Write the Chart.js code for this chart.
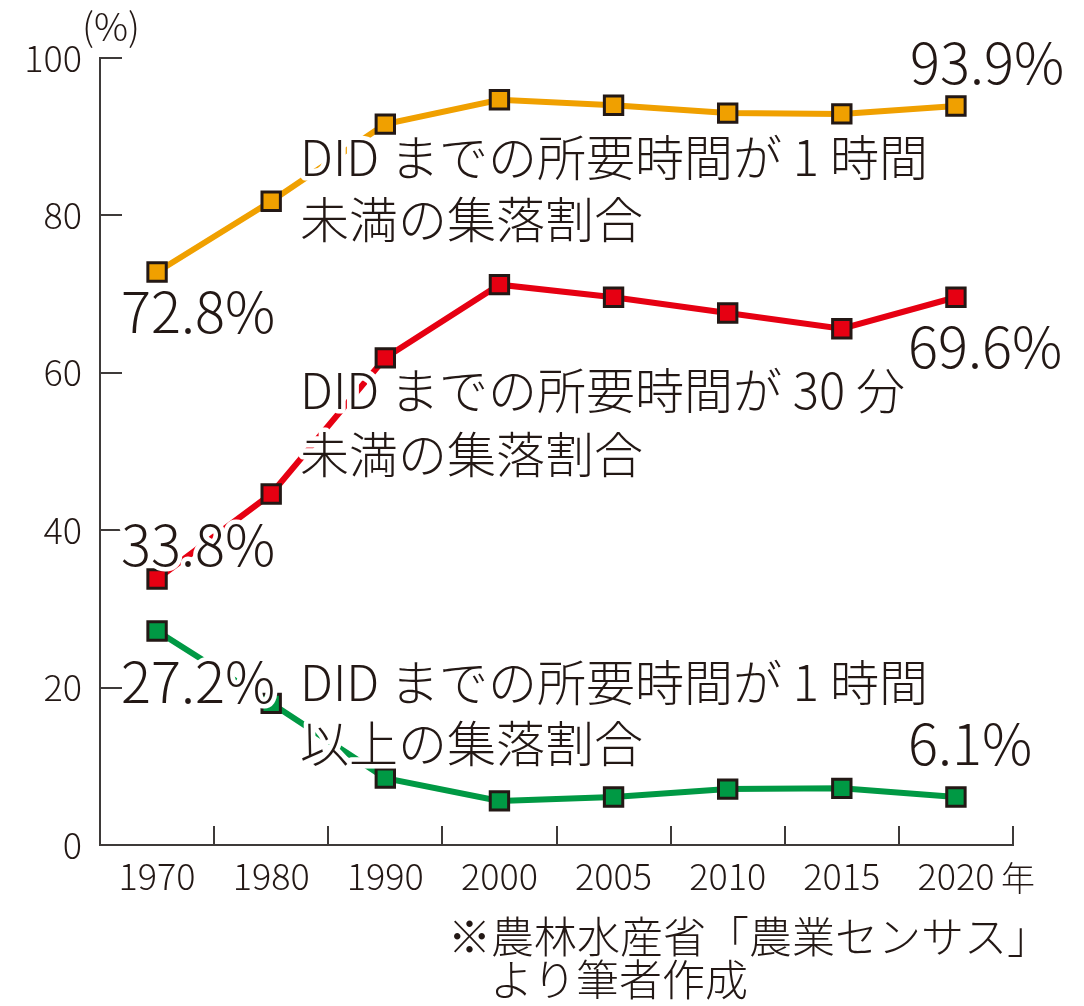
<!DOCTYPE html>
<html lang="ja">
<head>
<meta charset="utf-8">
<script src="https://cdn.jsdelivr.net/npm/chart.js@4.4.1/dist/chart.umd.min.js"></script>
<style>
  body { margin: 0; background: #fff; }
  #wrap { width: 1084px; height: 1006px; }
</style>
</head>
<body>
<div id="wrap"><canvas id="chart" width="1084" height="1006"></canvas></div>
<script>
const years = ["1970", "1980", "1990", "2000", "2005", "2010", "2015", "2020"];
// DID までの所要時間が 1 時間未満
const underOneHour = [72.8, 81.8, 91.6, 94.7, 94.0, 93.0, 92.9, 93.9];
// DID までの所要時間が 30 分未満
const underThirtyMin = [33.8, 44.6, 61.9, 71.2, 69.6, 67.6, 65.6, 69.6];
// DID までの所要時間が 1 時間以上
const overOneHour = [27.2, 18.0, 8.5, 5.6, 6.1, 7.1, 7.2, 6.1];

const FONT = '"Noto Sans CJK JP", "Noto Sans", sans-serif';
const INK = "#231815";
const AXIS = "#3e3a39";
const ORANGE = "#f0a000";
const RED = "#e60012";
const GREEN = "#009944";

const pct = (v) => v.toFixed(1) + "%";

function series(data, color) {
  return {
    data: data,
    borderColor: color,
    borderWidth: 6,
    pointStyle: "rect",
    pointRadius: 13,
    pointHoverRadius: 13,
    pointBackgroundColor: color,
    pointBorderColor: INK,
    pointBorderWidth: 3,
    tension: 0,
  };
}

// tick marks pointing into the plot, like the printed figure
const innerTicks = {
  id: "innerTicks",
  beforeDatasetsDraw(chart) {
    const { ctx, chartArea, scales } = chart;
    const x = scales.x, y = scales.y;
    ctx.save();
    ctx.strokeStyle = AXIS;
    ctx.lineWidth = 2;
    ctx.beginPath();
    y.ticks.forEach((t) => {
      const py = Math.round(y.getPixelForValue(t.value));
      ctx.moveTo(chartArea.left, py);
      ctx.lineTo(chartArea.left + 22, py);
    });
    for (let i = 1; i <= years.length; i++) {
      let px;
      if (i < years.length) px = (x.getPixelForValue(i - 1) + x.getPixelForValue(i)) / 2;
      else px = chartArea.right;
      px = Math.round(px);
      ctx.moveTo(px, chartArea.bottom);
      ctx.lineTo(px, chartArea.bottom - 19);
    }
    ctx.stroke();
    ctx.restore();
  },
};

// big labels with a white halo, as in the original
function haloText(ctx, text, x, y, size, align) {
  ctx.font = `300 ${size}px ${FONT}`;
  ctx.textAlign = align || "left";
  ctx.textBaseline = "middle";
  ctx.lineJoin = "round";
  ctx.strokeStyle = "#fff";
  ctx.lineWidth = 9;
  ctx.strokeText(text, x, y);
  ctx.fillStyle = INK;
  ctx.fillText(text, x, y);
}

const annotations = {
  id: "annotations",
  afterDatasetsDraw(chart) {
    const ctx = chart.ctx;
    const last = years.length - 1;
    ctx.save();
    // value labels
    haloText(ctx, pct(underOneHour[last]), 910, 63, 56);
    haloText(ctx, pct(underOneHour[0]), 121, 312, 56);
    haloText(ctx, pct(underThirtyMin[last]), 908, 347, 56);
    haloText(ctx, pct(underThirtyMin[0]), 121, 545, 56);
    haloText(ctx, pct(overOneHour[0]), 121, 682, 56);
    haloText(ctx, pct(overOneHour[last]), 908, 744, 56);
    // series names
    haloText(ctx, "DID までの所要時間が 1 時間", 300, 157, 49);
    haloText(ctx, "未満の集落割合", 300, 219, 49);
    haloText(ctx, "DID までの所要時間が 30 分", 300, 390, 49);
    haloText(ctx, "未満の集落割合", 300, 454, 49);
    haloText(ctx, "DID までの所要時間が 1 時間", 300, 682, 49);
    haloText(ctx, "以上の集落割合", 300, 743, 49);

    // unit, year suffix and source
    ctx.fillStyle = INK;
    ctx.textBaseline = "middle";
    ctx.textAlign = "left";
    ctx.font = `300 38px ${FONT}`;
    ctx.fillText("(%)", 82, 27);
    ctx.font = `300 34px ${FONT}`;
    ctx.fillText("年", 1001, 878);
    ctx.font = `300 43px ${FONT}`;
    ctx.fillText("※農林水産省「農業センサス」", 448, 937);
    ctx.fillText("より筆者作成", 490, 980);
    ctx.restore();
  },
};

new Chart(document.getElementById("chart"), {
  type: "line",
  data: {
    labels: years,
    datasets: [
      series(underOneHour, ORANGE),
      series(underThirtyMin, RED),
      series(overOneHour, GREEN),
    ],
  },
  options: {
    responsive: false,
    animation: false,
    events: [],
    layout: { padding: { top: 58, right: 71, left: 0, bottom: 0 } },
    plugins: {
      legend: { display: false },
      tooltip: { enabled: false },
    },
    scales: {
      x: {
        offset: true,
        afterFit: (scale) => { scale.height = 161; },
        grid: { display: true, drawOnChartArea: false, drawTicks: false, offset: true },
        border: { display: true, color: AXIS, width: 2 },
        ticks: {
          color: INK,
          padding: 10,
          maxRotation: 0,
          font: { family: FONT, size: 36, weight: 300 },
        },
      },
      y: {
        min: 0,
        max: 100,
        afterFit: (scale) => { scale.width = 100; },
        grid: { display: true, drawOnChartArea: false, drawTicks: false },
        border: { display: true, color: AXIS, width: 2 },
        ticks: {
          stepSize: 20,
          color: INK,
          padding: 18,
          font: { family: FONT, size: 36, weight: 300 },
        },
      },
    },
  },
  plugins: [innerTicks, annotations],
});
</script>
</body>
</html>
